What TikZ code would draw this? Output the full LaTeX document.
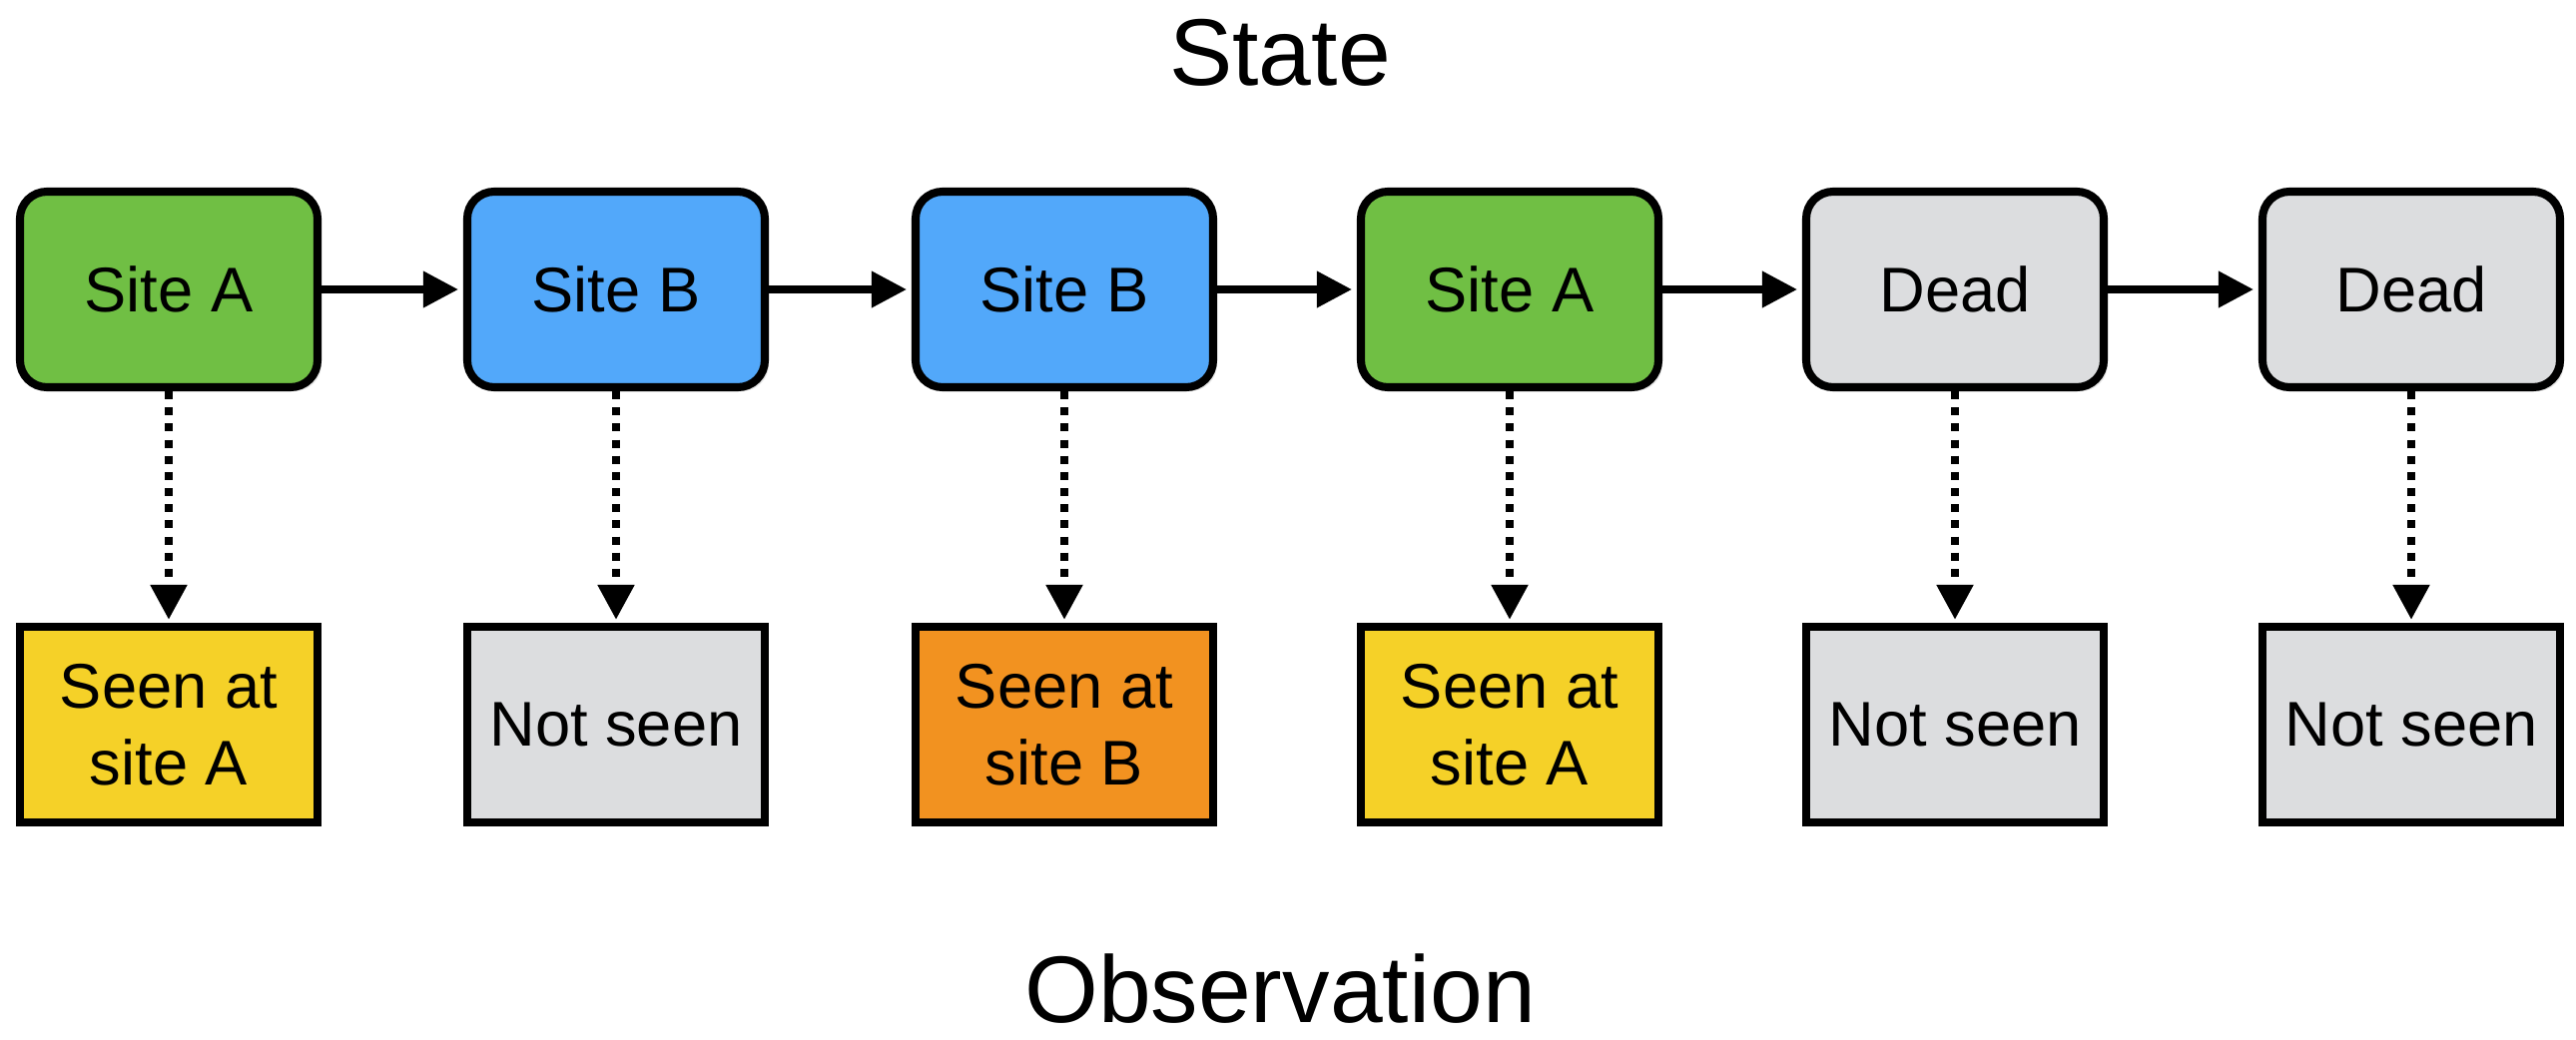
\documentclass[tikz,border=0pt]{standalone}
\usepackage{fontspec}
\setmainfont{Liberation Sans}
\usepackage{xcolor}
\usetikzlibrary{arrows.meta,shadows}

\definecolor{sitegreen}{RGB}{112,191,68}
\definecolor{siteblue}{RGB}{82,168,250}
\definecolor{deadgray}{RGB}{220,221,223}
\definecolor{seenyellow}{RGB}{245,209,40}
\definecolor{seenorange}{RGB}{242,146,32}

\begin{document}
\begin{tikzpicture}[
    state/.style={rectangle, rounded corners=0.27cm, draw=black, line width=2.3pt, minimum width=2.98cm, minimum height=1.96cm, font=\fontsize{18}{22}\selectfont, drop shadow={shadow xshift=0.04cm, shadow yshift=-0.04cm, opacity=0.2}},
    obs/.style={rectangle, draw=black, line width=2.3pt, minimum width=2.98cm, minimum height=1.96cm, align=center, font=\fontsize{18}{22}\selectfont, drop shadow={shadow xshift=0.04cm, shadow yshift=-0.04cm, opacity=0.2}},
    title/.style={anchor=base, font=\fontsize{27}{32}\selectfont},
    trans/.style={-{Triangle[length=0.35cm, width=0.35cm]}, line width=2pt, shorten >=0.05cm},
    emit/.style={-{Triangle[length=0.35cm, width=0.35cm]}, line width=2.3pt, dash pattern=on 2.3pt off 2.3pt, shorten >=0.03cm}
]
    \useasboundingbox (0,0) rectangle (25.8,10.41);

    % Titles
    \node[title] (statetitle) at (12.82,9.55) {State};
    \node[title] (obstitle) at (12.82,0.17) {Observation};

    % States
    \node[state, fill=sitegreen] (s1) at (1.69,7.51) {Site A};
    \node[state, fill=siteblue] (s2) at (6.17,7.51) {Site B};
    \node[state, fill=siteblue] (s3) at (10.66,7.51) {Site B};
    \node[state, fill=sitegreen] (s4) at (15.12,7.51) {Site A};
    \node[state, fill=deadgray] (s5) at (19.58,7.51) {Dead};
    \node[state, fill=deadgray] (s6) at (24.15,7.51) {Dead};

    % Observations
    \node[obs, fill=seenyellow] (o1) at (1.69,3.15) {Seen at\\site A};
    \node[obs, fill=deadgray] (o2) at (6.17,3.15) {Not seen};
    \node[obs, fill=seenorange] (o3) at (10.66,3.15) {Seen at\\site B};
    \node[obs, fill=seenyellow] (o4) at (15.12,3.15) {Seen at\\site A};
    \node[obs, fill=deadgray] (o5) at (19.58,3.15) {Not seen};
    \node[obs, fill=deadgray] (o6) at (24.15,3.15) {Not seen};

    % Transitions
    \draw[trans] (s1) -- (s2);
    \draw[trans] (s2) -- (s3);
    \draw[trans] (s3) -- (s4);
    \draw[trans] (s4) -- (s5);
    \draw[trans] (s5) -- (s6);

    % Emissions
    \draw[emit] (s1) -- (o1);
    \draw[emit] (s2) -- (o2);
    \draw[emit] (s3) -- (o3);
    \draw[emit] (s4) -- (o4);
    \draw[emit] (s5) -- (o5);
    \draw[emit] (s6) -- (o6);
\end{tikzpicture}
\end{document}
